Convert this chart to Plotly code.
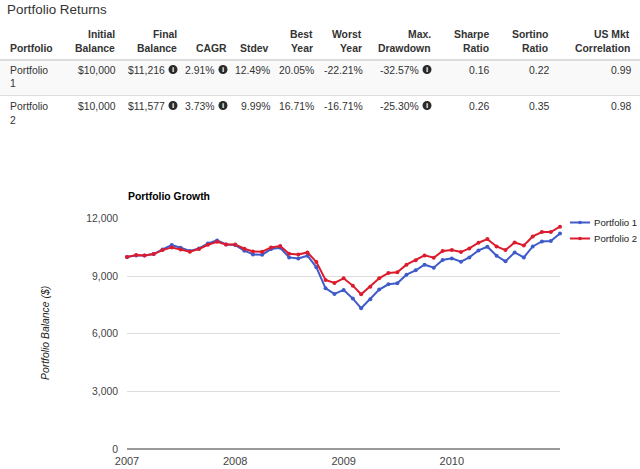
import plotly.graph_objects as go
import pandas as pd

W, H = 640, 469
months = [d.strftime("%Y-%m-%d") for d in pd.date_range("2007-01-01", "2011-01-01", freq="MS")]
portfolio_1 = [10000, 10080, 10080, 10149, 10391, 10616, 10478, 10305, 10443, 10703, 10858, 10651,
               10616, 10322, 10132, 10114, 10408, 10478, 9976, 9924, 10062, 9457, 8367, 8073,
               8280, 7831, 7329, 7796, 8298, 8575, 8627, 9076, 9301, 9595, 9440, 9838,
               9924, 9751, 9976, 10339, 10530, 10062, 9768, 10235, 9976, 10547, 10806, 10824, 11216]
portfolio_2 = [10000, 10097, 10080, 10149, 10356, 10495, 10391, 10270, 10408, 10633, 10789, 10651,
               10651, 10426, 10287, 10270, 10495, 10564, 10166, 10132, 10235, 9734, 8800, 8644,
               8886, 8505, 8056, 8453, 8886, 9163, 9197, 9595, 9820, 10080, 9959, 10305,
               10356, 10253, 10443, 10737, 10927, 10547, 10356, 10754, 10599, 11066, 11291, 11291, 11577]
y_ticks = [0, 3000, 6000, 9000, 12000]
x_ticks = ["2007-01-01", "2008-01-01", "2009-01-01", "2010-01-01"]
x_labels = ["2007", "2008", "2009", "2010"]

headers = [("Initial", "Balance"), ("Final", "Balance"), ("", "CAGR"), ("", "Stdev"), ("Best", "Year"),
           ("Worst", "Year"), ("Max.", "Drawdown"), ("Sharpe", "Ratio"), ("Sortino", "Ratio"), ("US Mkt", "Correlation")]
row_1 = ["$10,000", "$11,216", "2.91%", "12.49%", "20.05%", "-22.21%", "-32.57%", "0.16", "0.22", "0.99"]
row_2 = ["$10,000", "$11,577", "3.73%", "9.99%", "16.71%", "-16.71%", "-25.30%", "0.26", "0.35", "0.98"]
col_right = [116, 178, 228, 270, 314, 363, 432, 489.5, 549, 631]
val_right = [116, 165, 214, 270, 314, 363, 419, 489.5, 549, 631]
icon_x = [173, 223, 427]
series_names = ["Portfolio 1", "Portfolio 2"]
series_colors = ["#3f5bc9", "#dc1c2e"]


def px(x):
    return x / W


def py(y):
    return 1 - y / H


ann = []
shapes = []


def text(x, y, s, size=10.4, color="#333", bold=False, anchor="right"):
    ann.append(dict(x=px(x), y=py(y), xref="paper", yref="paper", text=f"<b>{s}</b>" if bold else s,
                    showarrow=False, xanchor=anchor, yanchor="middle", borderpad=0,
                    font=dict(family="Liberation Sans", size=size, color=color)))


def rect(x0, y0, x1, y1, c):
    shapes.append(dict(type="rect", xref="paper", yref="paper", x0=px(x0), x1=px(x1), y0=py(y0), y1=py(y1),
                       fillcolor=c, line_width=0, layer="below"))


def dot(x, y, r, c):
    shapes.append(dict(type="circle", xref="paper", yref="paper", x0=px(x - r), x1=px(x + r),
                       y0=py(y + r), y1=py(y - r), fillcolor=c, line_width=0))


rect(0, 61, 640, 95, "#f9f9f9")
rect(0, 59, 640, 61, "#dddddd")
rect(0, 95, 640, 96, "#dddddd")

text(5.5, 9, "Portfolio Returns", size=13.4, anchor="left")
text(8.5, 48, "Portfolio", bold=True, anchor="left")
for (a, b), x in zip(headers, col_right):
    if a:
        text(x, 34, a, bold=True)
    text(x, 48, b, bold=True)
for y, name, row in [(70, "Portfolio", row_1), (106, "Portfolio", row_2)]:
    text(8.5, y, name, anchor="left")
    text(8.5, y + 14, "1" if y == 70 else "2", anchor="left")
    for v, x in zip(row, val_right):
        text(x + 0.5, y, v)
    for x in icon_x:
        dot(x, y - 0.5, 4.5, "#2a2a2a")
        text(x, y - 0.5, "i", size=8, color="#ffffff", bold=True, anchor="center")

text(126.5, 196, "Portfolio Growth", color="#000000", bold=True, anchor="left")
ann.append(dict(x=px(45), y=py(333), xref="paper", yref="paper", text="<i>Portfolio Balance ($)</i>",
                textangle=-90, showarrow=False, borderpad=0, xanchor="center", yanchor="middle",
                font=dict(family="Liberation Sans", size=10.4, color="#222")))

for name, col, ly in zip(series_names, series_colors, [222.5, 238.5]):
    shapes.append(dict(type="line", xref="paper", yref="paper", x0=px(570), x1=px(590), y0=py(ly), y1=py(ly),
                       line=dict(color=col, width=2)))
    dot(580, ly, 1.8, col)
    text(593, ly, name, size=9.6, color="#222", anchor="left")

fig = go.Figure()
for name, vals, col in zip(series_names, [portfolio_1, portfolio_2], series_colors):
    fig.add_trace(go.Scatter(x=months, y=vals, name=name, mode="lines+markers",
                             line=dict(color=col, width=2), marker=dict(color=col, size=4),
                             cliponaxis=False))

fig.update_layout(
    width=W, height=H, margin=dict(l=0, r=0, t=0, b=0), autosize=False, showlegend=False,
    paper_bgcolor="white", plot_bgcolor="white",
    font=dict(family="Liberation Sans", size=10.4, color="#444"),
    annotations=ann, shapes=shapes,
    xaxis=dict(domain=[px(127), px(560)], type="date", range=["2007-01-01", "2011-01-01"], automargin=False,
               tickvals=x_ticks, ticktext=x_labels, showgrid=False, zeroline=False, showline=False,
               ticks="", tickangle=0, ticklabelstandoff=4, tickfont=dict(size=11)),
    yaxis=dict(domain=[py(449), py(218.5)], range=[0, 12000], tickvals=y_ticks, tickformat=",", automargin=False,
               gridcolor="#dddddd", gridwidth=1, zeroline=True, zerolinecolor="#999999", zerolinewidth=2,
               showline=False, ticks="", ticklabelstandoff=8),
)
fig.write_html("out.html", config=dict(displayModeBar=False),
               post_script="document.body.style.margin='0';")
